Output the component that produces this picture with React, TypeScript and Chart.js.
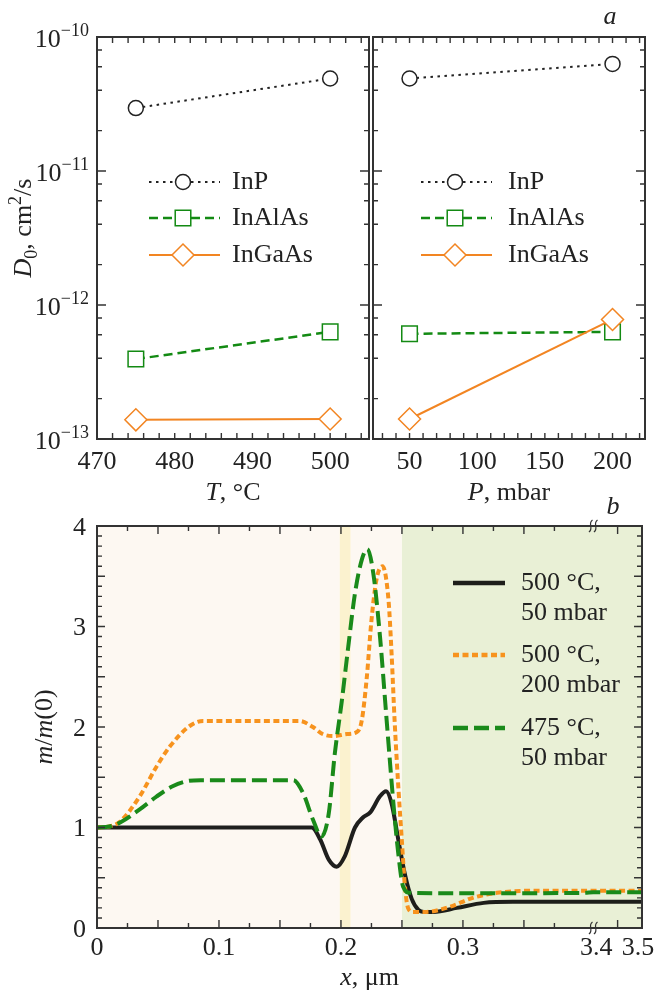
import { useEffect, useRef } from 'react';
import { Chart, registerables } from 'chart.js';

Chart.register(...registerables);

// ---------------- data: panel a ----------------
const T_CELSIUS = [475, 500];
const P_MBAR = [50, 200];
const MATERIALS = ['InP', 'InAlAs', 'InGaAs'];
const INP_VS_T = [2.95e-11, 4.9e-11];
const INALAS_VS_T = [3.95e-13, 6.3e-13];
const INGAAS_VS_T = [1.39e-13, 1.41e-13];
const INP_VS_P = [4.9e-11, 6.3e-11];
const INALAS_VS_P = [6.1e-13, 6.3e-13];
const INGAAS_VS_P = [1.41e-13, 7.8e-13];
const T_TICK_LABELS = [470, 480, 490, 500];
const P_TICK_LABELS = [50, 100, 150, 200];
const D0_DECADES = [-10, -11, -12, -13];

// ---------------- data: panel b ----------------
const X_500C_50MBAR = [0, 0.17, 0.176, 0.183, 0.19, 0.1965, 0.203, 0.2115, 0.218, 0.224, 0.232, 0.237, 0.2415, 0.247, 0.2525, 0.258, 0.2635, 0.268, 0.276, 0.295, 0.317, 0.341, 0.36, 0.4, 3.4, 3.5];
const M_500C_50MBAR = [1, 1, 1, 0.88, 0.68, 0.61, 0.71, 1.0, 1.1, 1.15, 1.31, 1.36, 1.24, 0.88, 0.53, 0.29, 0.18, 0.16, 0.16, 0.2, 0.25, 0.26, 0.26, 0.26, 0.26, 0.26];
const X_500C_200MBAR = [0, 0.01, 0.019, 0.035, 0.049, 0.06, 0.076, 0.087, 0.166, 0.177, 0.185, 0.194, 0.205, 0.213, 0.217, 0.221, 0.225, 0.229, 0.234, 0.239, 0.2415, 0.244, 0.247, 0.2497, 0.2525, 0.255, 0.259, 0.27, 0.289, 0.308, 0.328, 0.355, 0.4, 3.4, 3.5];
const M_500C_200MBAR = [1, 1.01, 1.06, 1.31, 1.61, 1.81, 2.01, 2.06, 2.06, 2.0, 1.93, 1.91, 1.93, 1.95, 2.06, 2.47, 3.06, 3.46, 3.6, 3.26, 2.73, 2.06, 1.41, 0.91, 0.41, 0.2, 0.16, 0.16, 0.21, 0.3, 0.35, 0.37, 0.37, 0.37, 0.37];
const X_475C_50MBAR = [0, 0.01, 0.019, 0.035, 0.049, 0.062, 0.0735, 0.085, 0.161, 0.169, 0.177, 0.184, 0.19, 0.195, 0.2005, 0.206, 0.2115, 0.217, 0.2216, 0.2265, 0.232, 0.2375, 0.243, 0.247, 0.251, 0.2566, 0.3, 0.4, 3.4, 3.5];
const M_475C_50MBAR = [1, 1.01, 1.05, 1.18, 1.31, 1.41, 1.46, 1.47, 1.47, 1.34, 1.08, 0.91, 1.14, 1.74, 2.24, 2.8, 3.33, 3.66, 3.77, 3.53, 2.9, 2.06, 1.24, 0.74, 0.41, 0.35, 0.345, 0.35, 0.355, 0.355];
const PROFILE_LABELS = [['500 °C,', '50 mbar'], ['500 °C,', '200 mbar'], ['475 °C,', '50 mbar']];
const X_TICK_LABELS = [0, 0.1, 0.2, 0.3, 3.4, 3.5];
const M_TICK_LABELS = [0, 1, 2, 3, 4];
const LAYER_BOUNDS = [0, 0.199, 0.208, 0.25, 3.5];

// broken x-axis: [0, 0.4] linear, then [3.4, 3.5] compressed
const BREAK_AT = 3.4;
const BREAK_U = 0.4068;
const POST_SCALE = 0.4;
const axisU = (x: number) => (x < 1 ? x : BREAK_U + (x - BREAK_AT) * POST_SCALE);

// ---------------- styles ----------------
const W = 658;
const H = 995;
const SERIF = '"Liberation Serif", "Times New Roman", serif';
const FS = 26;
const SUP = 18;
const AXIS = '#333';
const TOP_STYLES = [
  { color: '#222222', dash: [2.5, 4.5], width: 2, point: 'circle', radius: 7.5 },
  { color: '#138a13', dash: [9, 5], width: 2.5, point: 'rect', radius: 11 },
  { color: '#f28522', dash: [] as number[], width: 2, point: 'rectRot', radius: 11 },
];
const BOTTOM_STYLES = [
  { color: 'rgba(0,0,0,0.88)', dash: [] as number[], width: 4 },
  { color: '#f7931e', dash: [6, 3.5], width: 4 },
  { color: '#1a8a1a', dash: [15, 6], width: 4 },
];
const LAYER_COLORS = ['#fdf8f2', '#fbf2cf', '#fdf8f2', '#e9f0d6'];

type Part = { t: string; size?: number; italic?: boolean; dy?: number };

const fontOf = (size: number, italic = false) => `${italic ? 'italic ' : ''}${size}px ${SERIF}`;

function drawRich(ctx: CanvasRenderingContext2D, parts: Part[], x: number, y: number, align: 'left' | 'center' | 'right', baseline: CanvasTextBaseline = 'middle') {
  let w = 0;
  for (const p of parts) {
    ctx.font = fontOf(p.size ?? FS, p.italic);
    w += ctx.measureText(p.t).width;
  }
  let cx = align === 'left' ? x : align === 'center' ? x - w / 2 : x - w;
  ctx.textAlign = 'left';
  ctx.textBaseline = baseline;
  ctx.fillStyle = '#222';
  for (const p of parts) {
    ctx.font = fontOf(p.size ?? FS, p.italic);
    ctx.fillText(p.t, cx, y + (p.dy ?? 0));
    cx += ctx.measureText(p.t).width;
  }
}

function drawBorder(ctx: CanvasRenderingContext2D, a: any) {
  ctx.save();
  ctx.setLineDash([]);
  ctx.strokeStyle = AXIS;
  ctx.lineWidth = 2;
  ctx.strokeRect(a.left, a.top, a.right - a.left, a.bottom - a.top);
  ctx.restore();
}

function drawXTicks(ctx: CanvasRenderingContext2D, chart: any, vals: number[], len: number) {
  const a = chart.chartArea;
  const xs = chart.scales.x;
  ctx.save();
  ctx.setLineDash([]);
  ctx.strokeStyle = AXIS;
  ctx.lineWidth = 1.4;
  ctx.beginPath();
  for (const v of vals) {
    const p = xs.getPixelForValue(v);
    ctx.moveTo(p, a.bottom);
    ctx.lineTo(p, a.bottom - len);
    ctx.moveTo(p, a.top);
    ctx.lineTo(p, a.top + len);
  }
  ctx.stroke();
  ctx.restore();
}

function drawYTicks(ctx: CanvasRenderingContext2D, chart: any, vals: number[], len: number) {
  const a = chart.chartArea;
  const ys = chart.scales.y;
  ctx.save();
  ctx.setLineDash([]);
  ctx.strokeStyle = AXIS;
  ctx.lineWidth = 1.4;
  ctx.beginPath();
  for (const v of vals) {
    const p = ys.getPixelForValue(v);
    ctx.moveTo(a.left, p);
    ctx.lineTo(a.left + len, p);
    ctx.moveTo(a.right, p);
    ctx.lineTo(a.right - len, p);
  }
  ctx.stroke();
  ctx.restore();
}

function drawMarker(ctx: CanvasRenderingContext2D, kind: string, x: number, y: number, r: number, color: string) {
  ctx.save();
  ctx.setLineDash([]);
  ctx.fillStyle = '#fff';
  ctx.strokeStyle = color;
  ctx.lineWidth = 1.5;
  ctx.beginPath();
  if (kind === 'circle') ctx.arc(x, y, r, 0, Math.PI * 2);
  else if (kind === 'rect') {
    const h = r * Math.SQRT1_2;
    ctx.rect(x - h, y - h, 2 * h, 2 * h);
  } else {
    ctx.moveTo(x, y - r);
    ctx.lineTo(x + r, y);
    ctx.lineTo(x, y + r);
    ctx.lineTo(x - r, y);
    ctx.closePath();
  }
  ctx.fill();
  ctx.stroke();
  ctx.restore();
}

function drawTopLegend(ctx: CanvasRenderingContext2D, x0: number, x1: number, xm: number, xt: number) {
  const ys = [182, 218, 255];
  MATERIALS.forEach((name, i) => {
    const s = TOP_STYLES[i];
    const y = ys[i];
    ctx.save();
    ctx.strokeStyle = s.color;
    ctx.lineWidth = s.width;
    ctx.setLineDash(s.dash);
    ctx.beginPath();
    ctx.moveTo(x0, y);
    ctx.lineTo(x1, y);
    ctx.stroke();
    ctx.restore();
    drawMarker(ctx, s.point, xm, y, s.radius, s.color);
    drawRich(ctx, [{ t: name }], xt, y, 'left');
  });
}

function decadeMinors(): number[] {
  const out: number[] = [];
  for (const d of [-13, -12, -11]) for (const m of [2, 4, 6, 8]) out.push(m * Math.pow(10, d));
  return out;
}

function topDatasets(xVals: number[], series: number[][]) {
  return series.map((vals, i) => {
    const s = TOP_STYLES[i];
    return {
      label: MATERIALS[i],
      data: xVals.map((x, j) => ({ x, y: vals[j] })),
      borderColor: s.color,
      borderWidth: s.width,
      borderDash: s.dash,
      pointStyle: s.point,
      pointRadius: s.radius,
      pointBorderWidth: 1.5,
      pointBorderColor: s.color,
      pointBackgroundColor: '#fff',
      fill: false,
      tension: 0,
      clip: false,
      order: i === 2 ? 0 : 1,
    };
  });
}

function baseOptions(xMin: number, xMax: number, yType: string, yMin: number, yMax: number, pad: any) {
  return {
    responsive: false,
    animation: false,
    events: [],
    devicePixelRatio: 1,
    layout: { padding: pad },
    plugins: { legend: { display: false }, tooltip: { enabled: false } },
    scales: {
      x: { type: 'linear', min: xMin, max: xMax, display: false },
      y: { type: yType, min: yMin, max: yMax, display: false },
    },
  } as any;
}

function sCurve(ctx: CanvasRenderingContext2D, x: number, y: number) {
  ctx.beginPath();
  ctx.moveTo(x + 1.8, y - 6);
  ctx.bezierCurveTo(x - 3.5, y - 2.5, x + 3.5, y + 2.5, x - 1.8, y + 6);
  ctx.stroke();
}

export default function App() {
  const c1 = useRef<HTMLCanvasElement>(null);
  const c2 = useRef<HTMLCanvasElement>(null);
  const c3 = useRef<HTMLCanvasElement>(null);

  useEffect(() => {
    document.body.style.margin = '0';
    document.body.style.background = '#fff';

    const minorsY = decadeMinors();
    const majorsY = D0_DECADES.map((d) => Math.pow(10, d));

    // ---------- panel a, left (T) ----------
    const tTicks: number[] = [];
    for (let v = 470; v <= 504; v += 2) tTicks.push(v);
    const chartT = new Chart(c1.current!, {
      type: 'line',
      data: { datasets: topDatasets(T_CELSIUS, [INP_VS_T, INALAS_VS_T, INGAAS_VS_T]) as any },
      options: baseOptions(470, 505, 'logarithmic', 1e-13, 1e-10, { left: 97, top: 37, right: W - 369, bottom: H - 439 }),
      plugins: [
        {
          id: 'frameT',
          afterDraw(chart: any) {
            const ctx = chart.ctx as CanvasRenderingContext2D;
            drawBorder(ctx, chart.chartArea);
            drawYTicks(ctx, chart, majorsY, 9);
            drawYTicks(ctx, chart, minorsY, 5);
            drawXTicks(ctx, chart, tTicks, 6);
            for (const v of T_TICK_LABELS) drawRich(ctx, [{ t: String(v) }], chart.scales.x.getPixelForValue(v), 462, 'center');
            for (const d of D0_DECADES) {
              const y = chart.scales.y.getPixelForValue(Math.pow(10, d));
              drawRich(ctx, [{ t: '10' }, { t: '−' + String(-d), size: SUP, dy: -9 }], 89, y + 3, 'right');
            }
            drawRich(ctx, [{ t: 'T', italic: true }, { t: ', °C' }], 233, 493, 'center');
            ctx.save();
            ctx.translate(31, 228);
            ctx.rotate(-Math.PI / 2);
            drawRich(ctx, [{ t: 'D', italic: true }, { t: '0', size: SUP, dy: 6 }, { t: ', cm' }, { t: '2', size: SUP, dy: -10 }, { t: '/s' }], 0, 0, 'center', 'alphabetic');
            ctx.restore();
            drawTopLegend(ctx, 149, 220, 183, 232);
          },
        },
      ],
    });

    // ---------- panel a, right (P) ----------
    const pTicks: number[] = [];
    for (let v = 30; v <= 220; v += 10) pTicks.push(v);
    const chartP = new Chart(c2.current!, {
      type: 'line',
      data: { datasets: topDatasets(P_MBAR, [INP_VS_P, INALAS_VS_P, INGAAS_VS_P]) as any },
      options: baseOptions(23, 224, 'logarithmic', 1e-13, 1e-10, { left: 373, top: 37, right: W - 645, bottom: H - 439 }),
      plugins: [
        {
          id: 'frameP',
          afterDraw(chart: any) {
            const ctx = chart.ctx as CanvasRenderingContext2D;
            drawBorder(ctx, chart.chartArea);
            drawYTicks(ctx, chart, majorsY, 9);
            drawYTicks(ctx, chart, minorsY, 5);
            drawXTicks(ctx, chart, pTicks, 6);
            for (const v of P_TICK_LABELS) drawRich(ctx, [{ t: String(v) }], chart.scales.x.getPixelForValue(v), 462, 'center');
            drawRich(ctx, [{ t: 'P', italic: true }, { t: ', mbar' }], 509, 493, 'center');
            drawRich(ctx, [{ t: 'a', italic: true }], 610, 17, 'center');
            drawTopLegend(ctx, 421, 492, 455, 508);
          },
        },
      ],
    });

    // ---------- panel b ----------
    const profiles = [
      [X_500C_50MBAR, M_500C_50MBAR],
      [X_500C_200MBAR, M_500C_200MBAR],
      [X_475C_50MBAR, M_475C_50MBAR],
    ];
    const xMinor: number[] = [];
    const xMajor: number[] = [];
    for (let k = 1; k <= 15; k++) (k % 2 === 0 ? xMajor : xMinor).push(axisU(k * 0.025));
    xMajor.push(axisU(3.45));
    const yMinor: number[] = [];
    const yMajor: number[] = [];
    for (let k = 1; k < 40; k++) (k % 5 === 0 ? yMajor : yMinor).push(k / 10);

    const chartB = new Chart(c3.current!, {
      type: 'line',
      data: {
        datasets: profiles.map(([xs, ms], i) => {
          const s = BOTTOM_STYLES[i];
          return {
            label: PROFILE_LABELS[i].join(' '),
            data: xs.map((x, j) => ({ x: axisU(x), y: ms[j] })),
            borderColor: s.color,
            borderWidth: s.width,
            borderDash: s.dash,
            borderCapStyle: 'butt',
            pointRadius: 0,
            fill: false,
            cubicInterpolationMode: 'monotone',
            order: 3 - i,
          };
        }) as any,
      },
      options: baseOptions(0, axisU(3.5), 'linear', 0, 4, { left: 97, top: 526, right: W - 642, bottom: H - 928 }),
      plugins: [
        {
          id: 'frameB',
          beforeDatasetsDraw(chart: any) {
            const ctx = chart.ctx as CanvasRenderingContext2D;
            const a = chart.chartArea;
            const xs = chart.scales.x;
            for (let i = 0; i < LAYER_COLORS.length; i++) {
              const l = xs.getPixelForValue(axisU(LAYER_BOUNDS[i]));
              const r = xs.getPixelForValue(axisU(LAYER_BOUNDS[i + 1]));
              ctx.fillStyle = LAYER_COLORS[i];
              ctx.fillRect(l, a.top, r - l, a.bottom - a.top);
            }
          },
          afterDraw(chart: any) {
            const ctx = chart.ctx as CanvasRenderingContext2D;
            const a = chart.chartArea;
            const xs = chart.scales.x;
            const ys = chart.scales.y;
            drawBorder(ctx, a);
            drawXTicks(ctx, chart, xMajor, 8);
            drawXTicks(ctx, chart, xMinor, 5);
            drawYTicks(ctx, chart, yMajor, 8);
            drawYTicks(ctx, chart, yMinor, 5);
            // axis break marks
            const bx = xs.getPixelForValue(axisU(BREAK_AT));
            ctx.save();
            ctx.strokeStyle = AXIS;
            ctx.lineWidth = 1.2;
            for (const yy of [a.top, a.bottom]) {
              sCurve(ctx, bx - 2.5, yy);
              sCurve(ctx, bx + 2.5, yy);
            }
            ctx.restore();
            // tick labels
            X_TICK_LABELS.forEach((v) => {
              let px = xs.getPixelForValue(axisU(v));
              if (v === 3.4) px += 3;
              if (v === 3.5) px -= 4;
              drawRich(ctx, [{ t: String(v) }], px, 948, 'center');
            });
            for (const v of M_TICK_LABELS) drawRich(ctx, [{ t: String(v) }], 86, ys.getPixelForValue(v) + 2, 'right');
            drawRich(ctx, [{ t: 'x', italic: true }, { t: ', μm' }], (a.left + a.right) / 2, 978, 'center');
            ctx.save();
            ctx.translate(52, (a.top + a.bottom) / 2);
            ctx.rotate(-Math.PI / 2);
            drawRich(ctx, [{ t: 'm', italic: true }, { t: '/' }, { t: 'm', italic: true }, { t: '(0)' }], 0, 0, 'center', 'alphabetic');
            ctx.restore();
            drawRich(ctx, [{ t: 'b', italic: true }], 613, 507, 'center');
            // legend
            const ly = [583, 655, 728];
            PROFILE_LABELS.forEach((lines, i) => {
              const s = BOTTOM_STYLES[i];
              ctx.save();
              ctx.strokeStyle = s.color;
              ctx.lineWidth = 4.5;
              ctx.setLineDash(s.dash);
              ctx.beginPath();
              ctx.moveTo(453, ly[i]);
              ctx.lineTo(505, ly[i]);
              ctx.stroke();
              ctx.restore();
              drawRich(ctx, [{ t: lines[0] }], 521, ly[i], 'left');
              drawRich(ctx, [{ t: lines[1] }], 521, ly[i] + 30, 'left');
            });
          },
        },
      ],
    });

    return () => {
      chartT.destroy();
      chartP.destroy();
      chartB.destroy();
    };
  }, []);

  const cs: any = { position: 'absolute', left: 0, top: 0, width: W, height: H };
  return (
    <div style={{ position: 'relative', width: W, height: H, background: '#fff', overflow: 'hidden' }}>
      <canvas ref={c1} width={W} height={H} style={cs} />
      <canvas ref={c2} width={W} height={H} style={cs} />
      <canvas ref={c3} width={W} height={H} style={cs} />
    </div>
  );
}
